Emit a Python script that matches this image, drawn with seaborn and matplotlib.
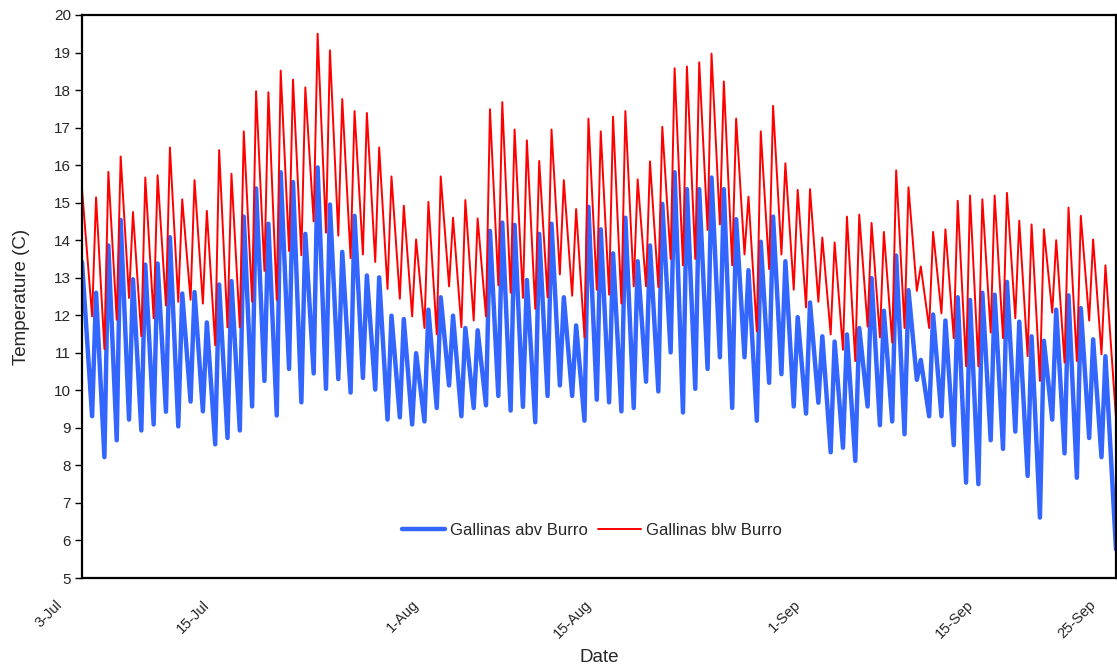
import numpy as np
import pandas as pd
import matplotlib
matplotlib.use("Agg")
import matplotlib.pyplot as plt
import matplotlib.transforms as mtransforms
import seaborn as sns

# ---------------------------------------------------------------
# DATA  (daily highs / lows, deg C)
# ---------------------------------------------------------------
start_date = pd.Timestamp("2008-07-03")
end_date = pd.Timestamp("2008-09-25")

# Gallinas abv Burro (blue)
abv_start = 13.42
abv_lows = [9.31, 8.22, 8.67, 9.22, 8.93, 9.09, 9.43, 9.04, 9.70, 9.44, 8.56, 8.73, 8.93, 9.57,
            10.25, 9.33, 10.57, 9.68, 10.45, 10.04, 10.30, 9.94, 10.33, 10.02, 9.22, 9.28, 9.09, 9.17,
            9.53, 10.13, 9.31, 9.53, 9.60, 9.85, 9.46, 9.56, 9.15, 9.85, 10.13, 9.85, 9.19,
            9.75, 9.68, 9.44, 9.53, 10.23, 9.97, 11.01, 9.41, 10.04, 10.57, 10.88, 9.53, 10.88, 9.19,
            10.20, 10.43, 9.57, 9.38, 9.67, 8.35, 8.47, 8.12, 9.57, 9.07, 9.17, 8.83, 10.28,
            9.31, 9.31, 8.54, 7.54, 7.50, 8.67, 8.44, 8.90, 7.72, 6.61, 9.22, 8.32, 7.67, 8.73, 8.22]
abv_highs = [12.60, 13.86, 14.54, 12.96, 13.35, 13.38, 14.08, 12.58, 12.62, 11.81, 12.82, 12.91, 14.63,
             15.38, 14.44, 15.81, 15.55, 14.17, 15.94, 14.95, 13.69, 14.65, 13.06, 13.01, 11.99, 11.90, 10.99,
             12.15, 12.48, 11.99, 11.66, 11.60, 14.25, 14.47, 14.41, 12.94, 14.17, 14.44, 12.48, 11.73, 14.89,
             14.29, 13.65, 14.60, 13.44, 13.86, 14.97, 15.81, 15.36, 15.36, 15.67, 15.36, 14.56, 13.20, 13.96,
             14.63, 13.44, 11.95, 12.34, 11.44, 11.30, 11.49, 11.66, 12.99, 12.12, 13.59, 12.67, 10.81,
             12.02, 11.86, 12.48, 12.41, 12.60, 12.55, 12.89, 11.83, 11.44, 11.32, 12.15, 12.53, 12.19, 11.36, 10.91]
abv_end = 5.76

# Gallinas blw Burro (red)
blw_start = 15.36
blw_lows = [11.97, 11.10, 11.88, 12.46, 11.44, 11.92, 12.26, 12.36, 12.41, 12.31, 11.20, 11.68, 11.68,
            12.36, 13.18, 12.41, 13.71, 13.60, 14.50, 14.20, 14.12, 13.52, 13.62, 13.42, 12.70, 12.44, 11.97,
            11.66, 11.49, 12.77, 11.68, 11.86, 11.97, 12.80, 12.60, 12.46, 12.17, 12.48, 13.09, 12.52, 11.41,
            12.68, 12.55, 12.31, 12.77, 12.77, 12.75, 13.50, 13.33, 13.50, 14.27, 14.42, 13.33, 13.62, 11.57,
            13.23, 13.62, 12.68, 12.21, 12.36, 11.49, 11.08, 10.78, 11.70, 11.41, 11.27, 11.66, 12.65,
            11.66, 12.05, 11.39, 10.64, 10.64, 11.54, 11.39, 11.92, 10.91, 10.25, 12.07, 10.74, 10.78, 11.86, 10.96]
blw_highs = [15.14, 15.82, 16.23, 14.75, 15.67, 15.73, 16.47, 15.09, 15.60, 14.78, 16.40, 15.77, 16.90,
             17.97, 17.94, 18.52, 18.28, 18.07, 19.50, 19.06, 17.76, 17.44, 17.39, 16.47, 15.70, 14.92, 14.02,
             15.02, 15.70, 14.60, 15.07, 14.58, 17.49, 17.68, 16.95, 16.66, 16.11, 16.95, 15.60, 14.83, 17.24,
             16.90, 17.29, 17.44, 15.62, 16.10, 17.02, 18.58, 18.63, 18.74, 18.97, 18.23, 17.24, 15.16, 16.90,
             17.58, 16.05, 15.34, 15.36, 14.07, 13.94, 14.63, 14.68, 14.46, 14.22, 15.86, 15.41, 13.30,
             14.22, 14.29, 15.05, 15.19, 15.09, 15.19, 15.26, 14.52, 14.42, 14.29, 14.00, 14.87, 14.65, 14.02, 13.33]
blw_end = 9.26

tick_dates = ["2008-07-03", "2008-07-15", "2008-08-01", "2008-08-15",
              "2008-09-01", "2008-09-15", "2008-09-25"]
tick_labels = ["3-Jul", "15-Jul", "1-Aug", "15-Aug", "1-Sep", "15-Sep", "25-Sep"]

# hour of the daily low / high (stream warms fast, cools slowly)
LOW_OFFSET = pd.Timedelta(hours=-4.3)
HIGH_OFFSET = pd.Timedelta(hours=3.4)


def build_series(name, first, lows, highs, last):
    times, temps = [start_date], [first]
    for k, (lo, hi) in enumerate(zip(lows, highs), start=1):
        day = start_date + pd.Timedelta(days=k)
        times += [day + LOW_OFFSET, day + HIGH_OFFSET]
        temps += [lo, hi]
    times.append(end_date)
    temps.append(last)
    return pd.DataFrame({"Date": times, "Temperature": temps, "site": name})


abv = build_series("Gallinas abv Burro", abv_start, abv_lows, abv_highs, abv_end)
blw = build_series("Gallinas blw Burro", blw_start, blw_lows, blw_highs, blw_end)

# ---------------------------------------------------------------
# PLOT
# ---------------------------------------------------------------
sns.set_theme(style="ticks")
plt.rcParams["font.family"] = ["Liberation Sans", "DejaVu Sans"]

fig = plt.figure(figsize=(11.17, 6.69), dpi=100)
ax = fig.add_axes([82 / 1117, 91 / 669, 1034 / 1117, 563 / 669])

sns.lineplot(data=abv, x="Date", y="Temperature", color="#3366FF", linewidth=3.2,
             label="Gallinas abv Burro", ax=ax)
sns.lineplot(data=blw, x="Date", y="Temperature", color="#FF0000", linewidth=1.4,
             label="Gallinas blw Burro", ax=ax)

ax.set_xlim(start_date, end_date)
ax.set_ylim(5, 20)
ax.set_yticks(range(5, 21))
ax.tick_params(axis="y", labelsize=11, length=5, width=1, color="black", direction="out", pad=3)

ax.set_xticks(pd.to_datetime(tick_dates))
ax.set_xticklabels(tick_labels, rotation=45, ha="right", rotation_mode="anchor", fontsize=10.5)
ax.tick_params(axis="x", length=0, pad=14)
shift = mtransforms.ScaledTranslation(-0.27, 0, fig.dpi_scale_trans)
for lbl in ax.get_xticklabels():
    lbl.set_transform(lbl.get_transform() + shift)

ax.set_xlabel("Date", fontsize=13.5, labelpad=6)
ax.set_ylabel("Temperature (C)", fontsize=13.5, labelpad=17)

for side in ["left", "bottom", "top", "right"]:
    ax.spines[side].set_visible(True)
    ax.spines[side].set_color("black")
    ax.spines[side].set_linewidth(1.6)
ax.grid(False)

ax.legend(loc="center", bbox_to_anchor=(0.493, 0.085), ncol=2, frameon=False,
          fontsize=12, handlelength=2.6, handletextpad=0.3, columnspacing=0.6)

fig.savefig("out.png", dpi=100)
